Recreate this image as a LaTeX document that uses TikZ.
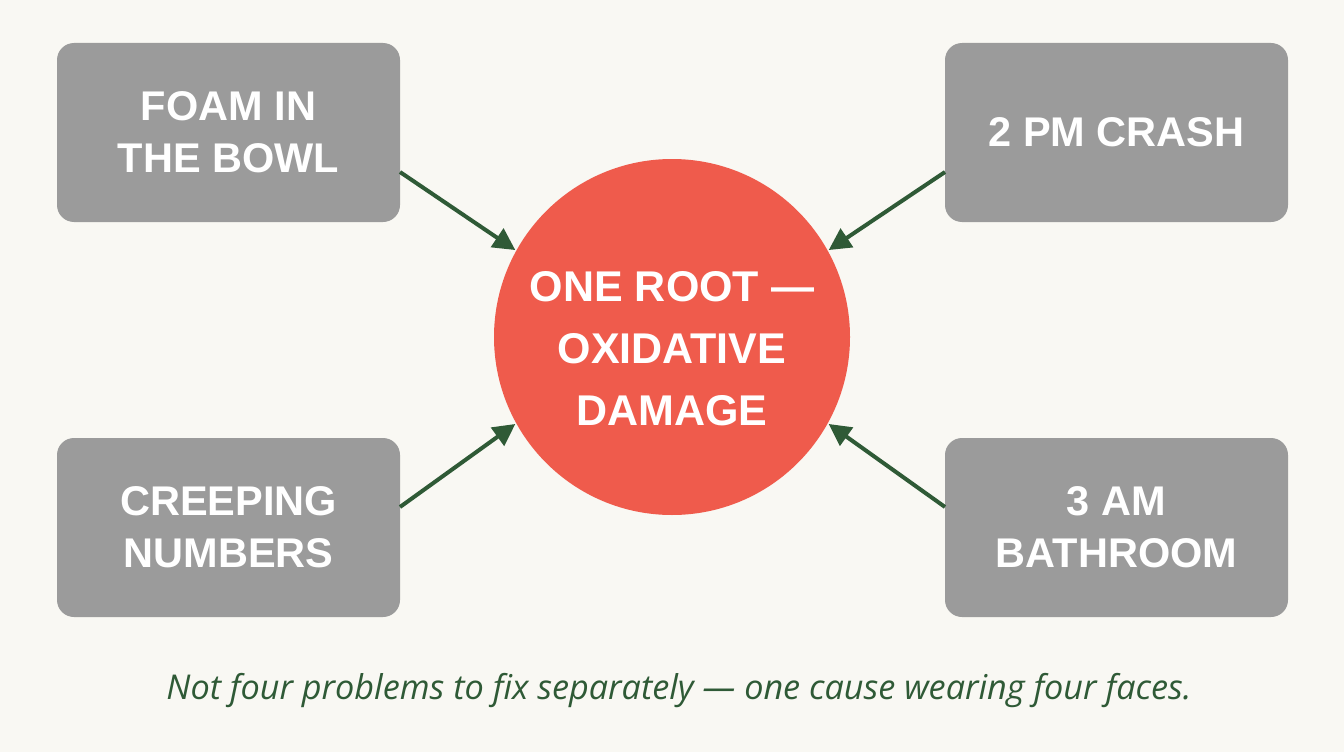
\documentclass[tikz,border=0pt]{standalone}
\usepackage{fontspec}
\setmainfont{Liberation Sans}
\newfontfamily\capfont{Open Sans}
\usetikzlibrary{arrows.meta}
\definecolor{bgc}{HTML}{F9F8F3}
\definecolor{boxc}{HTML}{9B9B9B}
\definecolor{redc}{HTML}{EF5B4C}
\definecolor{grn}{HTML}{2F5A36}
\tikzset{
  box/.style={fill=boxc, rounded corners=17pt, minimum width=343pt, minimum height=179pt, inner sep=0pt,
    text=white, font=\fontsize{41.5}{52}\selectfont\bfseries, align=center},
  root/.style={circle, fill=redc, minimum size=356pt, inner sep=0pt},
  roottext/.style={text=white, font=\fontsize{43}{62}\selectfont\bfseries, align=center},
  link/.style={draw=grn, line width=4pt, -{Triangle[length=22pt,width=22pt]}, shorten >=1pt},
}
\begin{document}
\begin{tikzpicture}[x=1pt,y=-1pt]
\fill[bgc] (0,0) rectangle (1344,752);
\useasboundingbox (0,0) rectangle (1344,752);
\node[box] (tl) at (228.5,132.5) {FOAM IN\\THE BOWL};
\node[box] (tr) at (1116.5,132.5) {2 PM CRASH};
\node[box] (bl) at (228.5,527.5) {CREEPING\\NUMBERS};
\node[box] (br) at (1116.5,527.5) {3 AM\\BATHROOM};
\node[root] (c) at (672,337) {};
\node[roottext] (ct) at (672,349) {ONE ROOT —\\OXIDATIVE\\DAMAGE};
\coordinate (tla) at (400,172);
\coordinate (tra) at (945,172);
\coordinate (bla) at (400,507);
\coordinate (bra) at (945,507);
\draw[link] (tla) -- (c.151);
\draw[link] (tra) -- (c.29);
\draw[link] (bla) -- (c.209);
\draw[link] (bra) -- (c.331);
\node[text=grn, font=\capfont\itshape\fontsize{34.2}{40}\selectfont] (cap) at (679,691) {Not four problems to fix separately — one cause wearing four faces.};
\end{tikzpicture}
\end{document}
